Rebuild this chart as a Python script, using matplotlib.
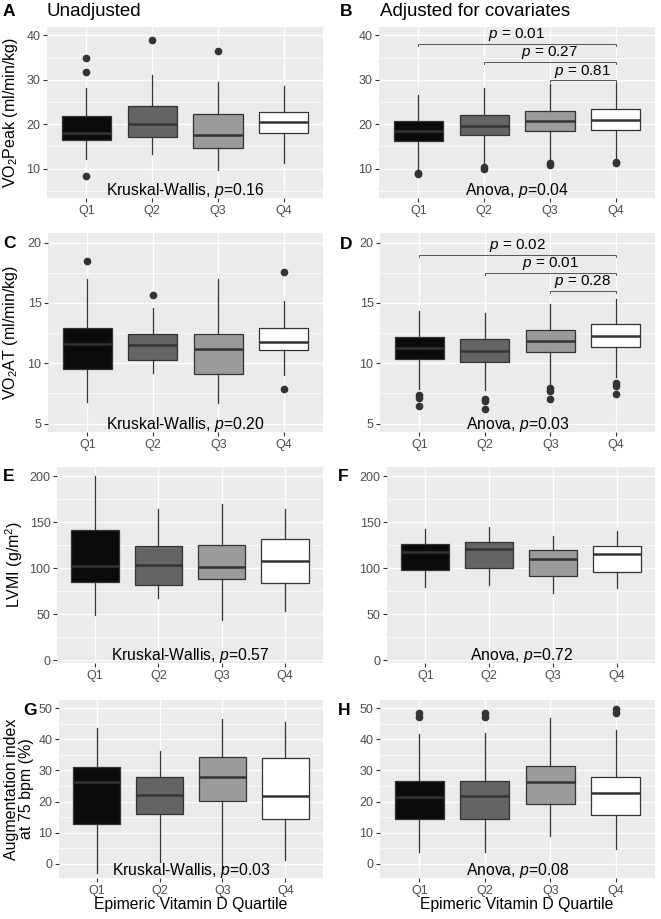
import matplotlib
matplotlib.use('Agg')
import matplotlib.pyplot as plt
from matplotlib.ticker import MultipleLocator

plt.rcParams['font.family'] = ['Liberation Sans', 'DejaVu Sans']
plt.rcParams['mathtext.fontset'] = 'custom'
plt.rcParams['mathtext.rm'] = 'Liberation Sans'
plt.rcParams['mathtext.it'] = 'Liberation Sans:italic'

quartis = ['Q1', 'Q2', 'Q3', 'Q4']
cores = ['#0b0b0b', '#646464', '#9b9b9b', '#ffffff']

# A - VO2 peak, sem ajuste
a_min = [12.2, 13.4, 9.6, 11.3]
a_q1 = [16.5, 17.1, 14.6, 18.0]
a_med = [18.0, 20.1, 17.6, 20.4]
a_q3 = [21.9, 24.1, 22.2, 22.7]
a_max = [28.2, 31.0, 29.6, 28.7]
a_out = [[35.0, 31.8, 8.4], [39.0], [36.5], []]

# B - VO2 peak, ajustado
b_min = [9.6, 10.8, 11.9, 12.1]
b_q1 = [16.2, 17.5, 18.5, 18.7]
b_med = [18.5, 19.7, 20.7, 21.0]
b_q3 = [20.8, 22.1, 23.1, 23.4]
b_max = [26.7, 28.1, 29.0, 29.3]
b_out = [[9.0, 8.8], [10.3, 10.0], [11.2, 10.9], [11.5, 11.2]]
b_alturas = [38.1, 34.0, 29.9]
b_pvals = ['0.01', '0.27', '0.81']

# C - VO2 AT, sem ajuste
c_min = [6.8, 9.2, 6.7, 9.0]
c_q1 = [9.55, 10.25, 9.1, 11.1]
c_med = [11.6, 11.5, 11.15, 11.75]
c_q3 = [12.95, 12.45, 12.45, 12.95]
c_max = [17.0, 14.6, 16.95, 15.2]
c_out = [[18.5], [15.65], [], [17.55, 7.9]]

# D - VO2 AT, ajustado
d_min = [7.85, 7.8, 8.3, 8.85]
d_q1 = [10.34, 10.12, 10.95, 11.36]
d_med = [11.28, 11.0, 11.83, 12.28]
d_q3 = [12.2, 11.97, 12.75, 13.22]
d_max = [14.33, 14.13, 14.9, 15.32]
d_out = [[7.38, 7.13, 6.42], [7.05, 6.86, 6.17], [7.92, 7.68, 7.0], [8.36, 8.14, 7.46]]
d_alturas = [18.98, 17.48, 15.99]
d_pvals = ['0.02', '0.01', '0.28']

# E - LVMI, sem ajuste
e_min = [48.7, 67.5, 44.0, 53.8]
e_q1 = [84.5, 81.6, 88.1, 83.8]
e_med = [102.5, 103.6, 101.1, 108.3]
e_q3 = [141.2, 124.2, 125.3, 132.1]
e_max = [200.0, 164.3, 169.7, 163.9]
e_out = [[], [], [], []]

# F - LVMI, ajustado
f_min = [80.1, 82.3, 73.6, 78.0]
f_q1 = [98.2, 100.7, 91.7, 95.7]
f_med = [117.3, 120.6, 110.5, 115.5]
f_q3 = [126.4, 128.9, 119.9, 124.2]
f_max = [142.6, 145.1, 135.4, 140.4]
f_out = [[], [], [], []]

# G - indice de aumento, sem ajuste
g_min = [-3.0, 0.5, -2.0, 1.4]
g_q1 = [12.9, 16.0, 20.1, 14.4]
g_med = [26.3, 22.0, 27.9, 21.7]
g_q3 = [31.0, 27.9, 34.3, 34.0]
g_max = [43.6, 36.3, 46.5, 45.5]
g_out = [[], [], [], []]

# H - indice de aumento, ajustado
h_min = [3.7, 3.7, 8.9, 4.9]
h_q1 = [14.3, 14.3, 19.2, 15.8]
h_med = [21.5, 21.7, 26.3, 22.8]
h_q3 = [26.7, 26.7, 31.3, 27.9]
h_max = [41.8, 42.0, 46.8, 43.0]
h_out = [[48.4, 47.3], [48.4, 47.3], [], [49.7, 48.4]]

W, H = 661, 919
fig = plt.figure(figsize=(W / 100, H / 100), dpi=100)


def caixa(l, t, r, b):
    return fig.add_axes([l / W, 1 - b / H, (r - l) / W, (b - t) / H])


def painel(ax, lo, q1, med, q3, hi, out, ylim, passo, nota):
    stats = []
    for i in range(4):
        stats.append(dict(whislo=lo[i], q1=q1[i], med=med[i], q3=q3[i],
                          whishi=hi[i], fliers=out[i]))
    art = ax.bxp(stats, positions=range(1, 5), widths=0.75, patch_artist=True,
                 showcaps=False,
                 boxprops=dict(edgecolor='#333333', linewidth=0.9),
                 medianprops=dict(color='#333333', linewidth=1.8),
                 whiskerprops=dict(color='#333333', linewidth=0.9),
                 flierprops=dict(marker='o', markerfacecolor='#333333',
                                 markeredgecolor='#333333', markersize=4.5))
    for p, c in zip(art['boxes'], cores):
        p.set_facecolor(c)
    ax.set_xlim(0.4, 4.6)
    ax.set_ylim(*ylim)
    ax.set_xticks(range(1, 5))
    ax.set_xticklabels(quartis)
    ax.yaxis.set_major_locator(MultipleLocator(passo))
    ax.yaxis.set_minor_locator(MultipleLocator(passo / 2))
    ax.set_facecolor('#EBEBEB')
    for s in ax.spines.values():
        s.set_visible(False)
    ax.grid(which='major', color='white', linewidth=1.0)
    ax.grid(which='minor', axis='y', color='white', linewidth=0.5)
    ax.set_axisbelow(True)
    ax.tick_params(which='major', length=3, width=0.8, color='#333333',
                   labelcolor='#4D4D4D', labelsize=9)
    ax.tick_params(axis='y', pad=1.7)
    ax.tick_params(axis='x', pad=1.8)
    ax.tick_params(which='minor', length=0)
    ax.annotate(nota, xy=(2.5, 0), xycoords=('data', 'axes fraction'),
                xytext=(0, 3), textcoords='offset pixels', ha='center',
                va='baseline', fontsize=11.3, color='black', zorder=6)


def colchetes(ax, alturas, pvals):
    y0, y1 = ax.get_ylim()
    tip = 0.012 * (y1 - y0)
    for x1, y, pv in zip([1, 2, 3], alturas, pvals):
        ax.plot([x1, x1, 4, 4], [y - tip, y, y, y - tip], color='#555555', lw=0.7)
        ax.text((x1 + 4) / 2, y + 0.004 * (y1 - y0), r'$p$ = ' + pv,
                ha='center', va='bottom', fontsize=11)


axA = caixa(47, 27, 323, 198)
painel(axA, a_min, a_q1, a_med, a_q3, a_max, a_out, (3.4, 41.9), 10,
       r'Kruskal-Wallis, $p$=0.16')
axB = caixa(379, 27, 655, 198)
painel(axB, b_min, b_q1, b_med, b_q3, b_max, b_out, (3.4, 41.9), 10,
       r'Anova, $p$=0.04')
colchetes(axB, b_alturas, b_pvals)

axC = caixa(48, 233, 323, 432)
painel(axC, c_min, c_q1, c_med, c_q3, c_max, c_out, (4.3, 20.8), 5,
       r'Kruskal-Wallis, $p$=0.20')
axD = caixa(380, 233, 655, 432)
painel(axD, d_min, d_q1, d_med, d_q3, d_max, d_out, (4.3, 20.8), 5,
       r'Anova, $p$=0.03')
colchetes(axD, d_alturas, d_pvals)

axE = caixa(57, 467, 323, 663)
painel(axE, e_min, e_q1, e_med, e_q3, e_max, e_out, (-3, 210), 50,
       r'Kruskal-Wallis, $p$=0.57')
axF = caixa(387, 467, 655, 663)
painel(axF, f_min, f_q1, f_med, f_q3, f_max, f_out, (-3, 210), 50,
       r'Anova, $p$=0.72')

axG = caixa(59, 700, 323, 878)
painel(axG, g_min, g_q1, g_med, g_q3, g_max, g_out, (-4.5, 52.6), 10,
       r'Kruskal-Wallis, $p$=0.03')
axH = caixa(380, 700, 655, 878)
painel(axH, h_min, h_q1, h_med, h_q3, h_max, h_out, (-4.5, 52.6), 10,
       r'Anova, $p$=0.08')


def ftexto(x, y, s, **kw):
    fig.text(x / W, 1 - y / H, s, **kw)


# letras e titulos
for letra, x, y in [('A', 3, 16), ('B', 340, 16), ('C', 3, 248), ('D', 340, 249),
                    ('E', 3, 481), ('F', 338, 481), ('G', 23, 715), ('H', 338, 715)]:
    ftexto(x, y, letra, fontsize=12.5, fontweight='bold', va='baseline', ha='left')
ftexto(47, 16, 'Unadjusted', fontsize=13.5, va='baseline', ha='left')
ftexto(380, 16, 'Adjusted for covariates', fontsize=13.5, va='baseline', ha='left')

# rotulos dos eixos
ftexto(10.5, 112.5, r'VO$_2$Peak (ml/min/kg)', rotation=90, fontsize=11.5,
       ha='center', va='center')
ftexto(10.5, 332.5, r'VO$_2$AT (ml/min/kg)', rotation=90, fontsize=11.5,
       ha='center', va='center')
ftexto(14.5, 565, r'LVMI (g/m$^2$)', rotation=90, fontsize=11.5,
       ha='center', va='center')
ftexto(19, 789, 'Augmentation index\nat 75 bpm (%)', rotation=90, fontsize=11.5,
       ha='center', va='center', multialignment='center', linespacing=0.95)
ftexto(191, 909, 'Epimeric Vitamin D Quartile', fontsize=11.3, ha='center', va='baseline')
ftexto(517, 909, 'Epimeric Vitamin D Quartile', fontsize=11.3, ha='center', va='baseline')

fig.savefig('out.png', dpi=100, facecolor='white')
